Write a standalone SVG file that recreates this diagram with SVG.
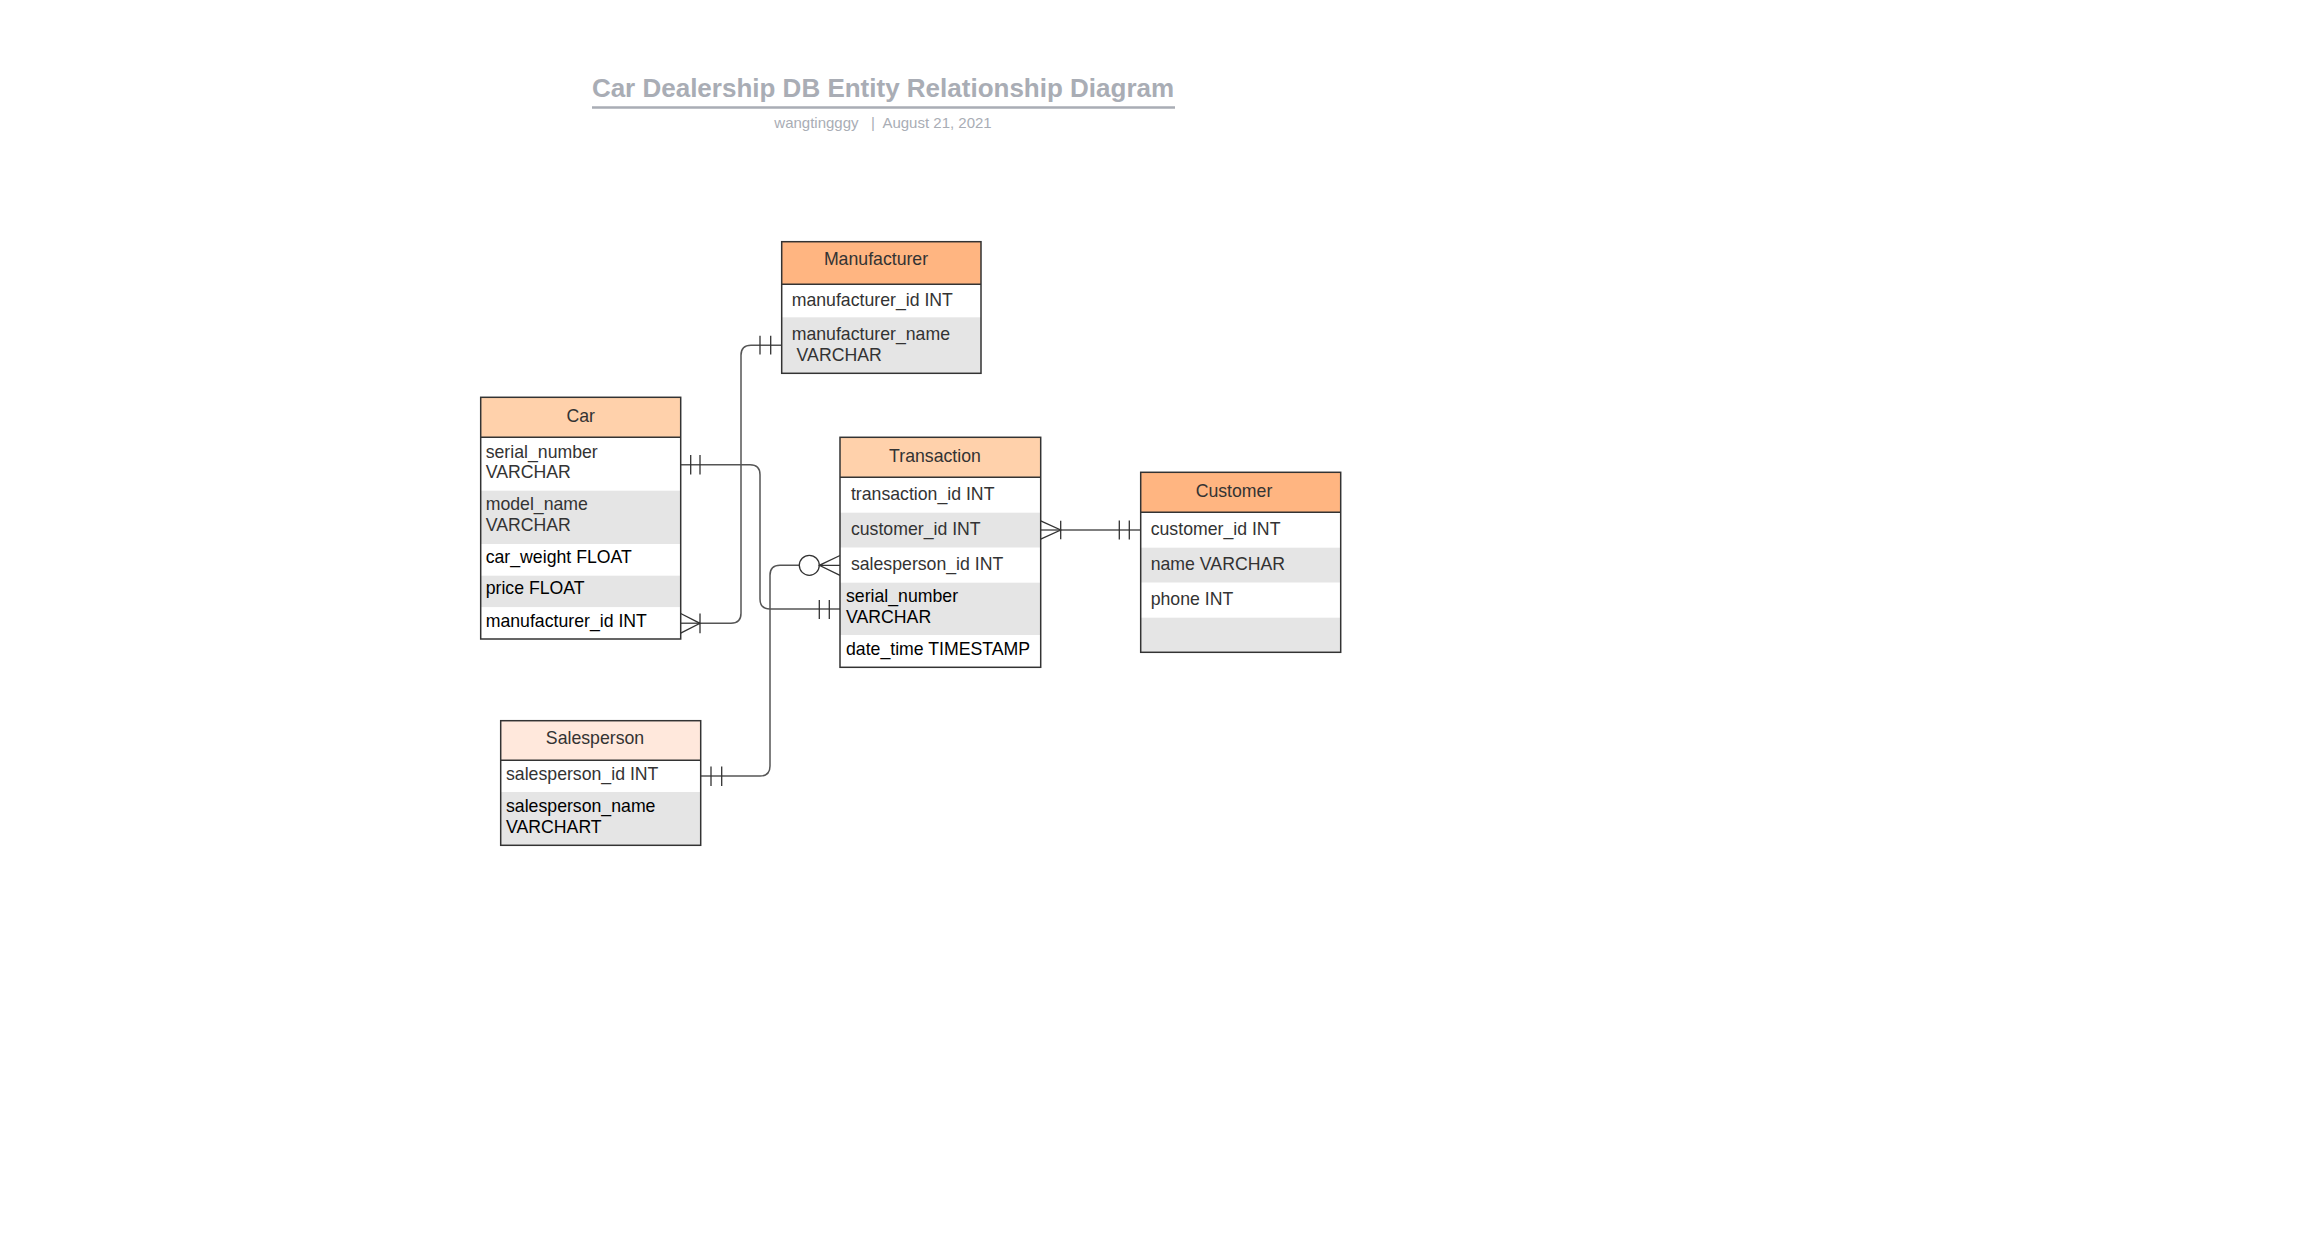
<svg xmlns="http://www.w3.org/2000/svg" width="2320" height="1235" viewBox="0 0 2320 1235">
<style>
  text { font-family: "Liberation Sans", Arial, sans-serif; }
  .box { fill: none; stroke: #333; stroke-width: 1.5; }
  .hdr-dark { fill: #ffb581; }
  .hdr-mid { fill: #ffd1ab; }
  .hdr-light { fill: #ffe8dc; }
  .row-w { fill: #ffffff; }
  .row-g { fill: #e5e5e5; }
  .sep { stroke: #333; stroke-width: 1.5; }
  .h { font-size: 17.7px; fill: #333; text-anchor: middle; }
  .t { font-size: 17.7px; fill: #333; }
  .k { font-size: 17.7px; fill: #000; }
  .conn { fill: none; stroke: #555; stroke-width: 1.5; }
  .mk { fill: none; stroke: #333; stroke-width: 1.3; }
  .title { font-size: 26px; font-weight: bold; fill: #a9adb5; text-anchor: middle; }
  .sub { font-size: 15px; fill: #a9adb5; text-anchor: middle; }
</style>

<g id="title">
  <text class="title" x="883" y="97">Car Dealership DB Entity Relationship Diagram</text>
  <line x1="592" y1="107.5" x2="1175" y2="107.5" stroke="#a9adb5" stroke-width="2.5"/>
  <text class="sub" x="883" y="128" xml:space="preserve">wangtingggy   |  August 21, 2021</text>
</g>

<g id="connectors">
  <!-- Car.serial_number -> Transaction.serial_number -->
  <path class="conn" d="M680.7 464.7 H750 Q760 464.7 760 474.7 V599 Q760 609 770 609 H840"/>
  <path class="mk" d="M690.7 455 V474.5 M700 455 V474.5"/>
  <path class="mk" d="M819.3 600 V619 M829.3 600 V619"/>

  <!-- Car.manufacturer_id -> Manufacturer -->
  <path class="conn" d="M680.7 623.3 H731 Q741 623.3 741 613.3 V355.3 Q741 345.3 751 345.3 H781.7"/>
  <path class="mk" d="M680.7 613.5 L700 623.3 L680.7 633.2 M700 613.5 V633.2"/>
  <path class="mk" d="M760 335.7 V354.5 M770.7 335.7 V354.5"/>

  <!-- Transaction.salesperson_id -> Salesperson -->
  <path class="conn" d="M799.3 565.3 H780 Q770 565.3 770 575.3 V766 Q770 776 760 776 H700.7"/>
  <circle class="mk" cx="809.3" cy="565.3" r="10" fill="#fff"/>
  <path class="mk" d="M840 555.5 L819.3 565.3 L840 575.3 M819.3 565.3 H840"/>
  <path class="mk" d="M711 766.5 V786 M721.7 766.5 V786"/>

  <!-- Transaction.customer_id -> Customer -->
  <path class="conn" d="M1040.7 530 H1140.7"/>
  <path class="mk" d="M1040.7 520.8 L1060.7 530 L1040.7 539.2 M1060.7 520.8 V539.2"/>
  <path class="mk" d="M1119.3 520.5 V539.5 M1129.3 520.5 V539.5"/>
</g>

<g id="manufacturer">
  <rect class="hdr-dark" x="781.7" y="241.7" width="199.3" height="42.6"/>
  <rect class="row-w" x="781.7" y="284.3" width="199.3" height="33"/>
  <rect class="row-g" x="781.7" y="317.3" width="199.3" height="56"/>
  <line class="sep" x1="781.7" y1="284.3" x2="981" y2="284.3"/>
  <rect class="box" x="781.7" y="241.7" width="199.3" height="131.6"/>
  <text class="h" x="876" y="265">Manufacturer</text>
  <text class="t" x="791.7" y="306">manufacturer_id INT</text>
  <text class="t" x="791.7" y="340">manufacturer_name</text>
  <text class="t" x="791.7" y="360.7" xml:space="preserve"> VARCHAR</text>
</g>

<g id="car">
  <rect class="hdr-mid" x="480.7" y="397.3" width="200" height="40"/>
  <rect class="row-w" x="480.7" y="437.3" width="200" height="53.4"/>
  <rect class="row-g" x="480.7" y="490.7" width="200" height="53.3"/>
  <rect class="row-w" x="480.7" y="544" width="200" height="31.7"/>
  <rect class="row-g" x="480.7" y="575.7" width="200" height="31.6"/>
  <rect class="row-w" x="480.7" y="607.3" width="200" height="31.7"/>
  <line class="sep" x1="480.7" y1="437.3" x2="680.7" y2="437.3"/>
  <rect class="box" x="480.7" y="397.3" width="200" height="241.7"/>
  <text class="h" x="580.7" y="422">Car</text>
  <text class="t" x="485.7" y="457.7">serial_number</text>
  <text class="t" x="485.7" y="478.3">VARCHAR</text>
  <text class="t" x="485.7" y="510">model_name</text>
  <text class="t" x="485.7" y="531">VARCHAR</text>
  <text class="k" x="485.7" y="563.3">car_weight FLOAT</text>
  <text class="k" x="485.7" y="594.3">price FLOAT</text>
  <text class="k" x="485.7" y="627.3">manufacturer_id INT</text>
</g>

<g id="transaction">
  <rect class="hdr-mid" x="840" y="437.3" width="200.7" height="40"/>
  <rect class="row-w" x="840" y="477.3" width="200.7" height="35.4"/>
  <rect class="row-g" x="840" y="512.7" width="200.7" height="35"/>
  <rect class="row-w" x="840" y="547.7" width="200.7" height="35"/>
  <rect class="row-g" x="840" y="582.7" width="200.7" height="52.3"/>
  <rect class="row-w" x="840" y="635" width="200.7" height="32.3"/>
  <line class="sep" x1="840" y1="477.3" x2="1040.7" y2="477.3"/>
  <rect class="box" x="840" y="437.3" width="200.7" height="230"/>
  <text class="h" x="935" y="461.5">Transaction</text>
  <text class="t" x="846" y="500" xml:space="preserve"> transaction_id INT</text>
  <text class="t" x="846" y="535" xml:space="preserve"> customer_id INT</text>
  <text class="t" x="846" y="570" xml:space="preserve"> salesperson_id INT</text>
  <text class="k" x="846" y="601.7">serial_number</text>
  <text class="k" x="846" y="622.7">VARCHAR</text>
  <text class="k" x="846" y="655">date_time TIMESTAMP</text>
</g>

<g id="customer">
  <rect class="hdr-dark" x="1140.7" y="472.3" width="200" height="40"/>
  <rect class="row-w" x="1140.7" y="512.3" width="200" height="35.4"/>
  <rect class="row-g" x="1140.7" y="547.7" width="200" height="35"/>
  <rect class="row-w" x="1140.7" y="582.7" width="200" height="35"/>
  <rect class="row-g" x="1140.7" y="617.7" width="200" height="34.6"/>
  <line class="sep" x1="1140.7" y1="512.3" x2="1340.7" y2="512.3"/>
  <rect class="box" x="1140.7" y="472.3" width="200" height="180"/>
  <text class="h" x="1234" y="496.7">Customer</text>
  <text class="t" x="1150.7" y="535">customer_id INT</text>
  <text class="t" x="1150.7" y="570">name VARCHAR</text>
  <text class="t" x="1150.7" y="605">phone INT</text>
</g>

<g id="salesperson">
  <rect class="hdr-light" x="500.7" y="720.7" width="200" height="39.6"/>
  <rect class="row-w" x="500.7" y="760.3" width="200" height="31.7"/>
  <rect class="row-g" x="500.7" y="792" width="200" height="53.3"/>
  <line class="sep" x1="500.7" y1="760.3" x2="700.7" y2="760.3"/>
  <rect class="box" x="500.7" y="720.7" width="200" height="124.6"/>
  <text class="h" x="595" y="744.3">Salesperson</text>
  <text class="t" x="506" y="780">salesperson_id INT</text>
  <text class="k" x="506" y="811.7">salesperson_name</text>
  <text class="k" x="506" y="832.7">VARCHART</text>
</g>
</svg>
